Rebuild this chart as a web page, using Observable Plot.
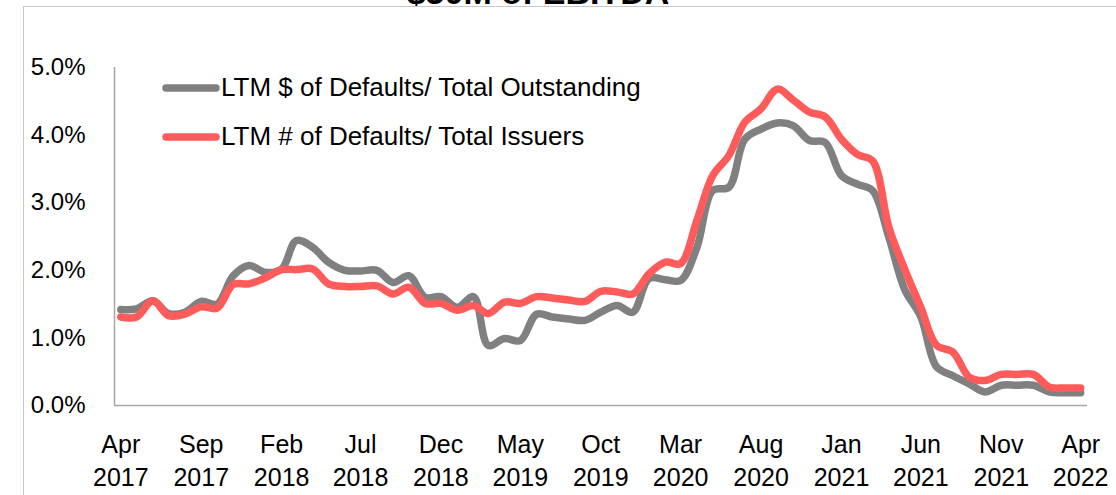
<!DOCTYPE html>
<html>
<head>
<meta charset="utf-8">
<script src="https://cdn.jsdelivr.net/npm/d3@7"></script>
<script src="https://cdn.jsdelivr.net/npm/@observablehq/plot@0.6"></script>
<style>
  html, body { margin: 0; padding: 0; background: #fff; }
  #wrap { position: relative; width: 1116px; height: 495px; overflow: hidden; font-family: "Liberation Sans", Arial, sans-serif; }
  #border { position: absolute; left: 23px; top: 6px; right: -5px; bottom: -5px; border-left: 1.5px solid #c8c8c8; border-top: 1.5px solid #c8c8c8; pointer-events: none; }
  #title { position: absolute; left: 0; width: 1076px; text-align: center; top: -25px; font-weight: bold; font-size: 34px; line-height: 34px; color: #000; }
  #legend { position: absolute; left: 160px; top: 63px; font-size: 26px; color: #000; }
  .li { display: flex; align-items: center; height: 49px; }
  .li svg { margin-right: -1px; }
  #chart { position: absolute; left: 0; top: 0; }
</style>
</head>
<body>
<div id="wrap">
  <div id="chart"></div>
  <div id="title">$50M of EBITDA</div>
  <div id="border"></div>
  <div id="legend"></div>
</div>
<script>
// Monthly observations, Apr 2017 .. Apr 2022
const startMonth = new Date(Date.UTC(2017, 3, 1));
const endMonth = new Date(Date.UTC(2022, 3, 1));
const months = d3.utcMonth.range(startMonth, d3.utcMonth.offset(endMonth, 1));

const seriesNames = ["LTM $ of Defaults/ Total Outstanding", "LTM # of Defaults/ Total Issuers"];
const seriesColors = ["#808080", "#ff5b5b"];

// LTM $ of Defaults / Total Outstanding (%)
const dollarPct = [
  1.42, 1.43, 1.55, 1.36, 1.38, 1.54, 1.50, 1.92, 2.07, 1.97,
  2.02, 2.44, 2.34, 2.12, 2.00, 1.99, 2.00, 1.82, 1.92, 1.60,
  1.61, 1.45, 1.61, 0.89, 0.99, 0.96, 1.35, 1.31, 1.28, 1.26,
  1.38, 1.48, 1.38, 1.88, 1.86, 1.85, 2.34, 3.18, 3.23, 3.94,
  4.09, 4.18, 4.14, 3.92, 3.89, 3.40, 3.27, 3.18, 2.49, 1.72,
  1.31, 0.57, 0.44, 0.32, 0.20, 0.30, 0.30, 0.30, 0.20, 0.19,
  0.19
];
// LTM # of Defaults / Total Issuers (%)
const countPct = [
  1.31, 1.31, 1.55, 1.33, 1.35, 1.46, 1.44, 1.79, 1.80, 1.89,
  2.01, 2.01, 2.02, 1.80, 1.76, 1.76, 1.77, 1.65, 1.75, 1.51,
  1.51, 1.41, 1.48, 1.36, 1.53, 1.51, 1.61, 1.59, 1.56, 1.54,
  1.69, 1.68, 1.65, 1.95, 2.12, 2.10, 2.74, 3.40, 3.70, 4.19,
  4.39, 4.68, 4.52, 4.34, 4.27, 3.94, 3.71, 3.62, 2.64, 2.02,
  1.45, 0.89, 0.79, 0.42, 0.37, 0.46, 0.46, 0.46, 0.27, 0.26,
  0.26
];

// Tick labels
const tickMonths = ["Apr 2017","Sep 2017","Feb 2018","Jul 2018","Dec 2018","May 2019","Oct 2019","Mar 2020","Aug 2020","Jan 2021","Jun 2021","Nov 2021","Apr 2022"];
const yTicks = [0, 1, 2, 3, 4, 5];

const parseTick = d3.utcParse("%b %Y");
const tickDates = tickMonths.map(parseTick);

const rows = [];
months.forEach((m, i) => {
  rows.push({date: m, value: dollarPct[i], series: seriesNames[0]});
});
months.forEach((m, i) => {
  rows.push({date: m, value: countPct[i], series: seriesNames[1]});
});

const xStart = d3.utcDay.offset(startMonth, -11.4);
const xEnd = d3.utcDay.offset(endMonth, 13.3);

const plot = Plot.plot({
  width: 1116,
  height: 495,
  marginLeft: 114,
  marginRight: 29,
  marginTop: 67,
  marginBottom: 90,
  style: {fontFamily: "'Liberation Sans', Arial, sans-serif", color: "#000", background: "transparent", overflow: "visible"},
  x: {type: "utc", domain: [xStart, xEnd]},
  y: {domain: [0, 5]},
  color: {domain: seriesNames, range: seriesColors},
  marks: [
    Plot.axisY({ticks: yTicks, tickSize: 0, tickPadding: 29, fontSize: 24, tickFormat: d => d.toFixed(1) + "%", label: null}),
    Plot.axisX({ticks: tickDates, tickSize: 0, tickPadding: 24, fontSize: 25, lineHeight: 1.32,
      tickFormat: d => d3.utcFormat("%b")(d) + "\n" + d3.utcFormat("%Y")(d), label: null}),
    Plot.ruleY([0], {stroke: "#a6a6a6", strokeWidth: 1.5}),
    Plot.ruleX([xStart], {y1: 0, y2: 5, stroke: "#a6a6a6", strokeWidth: 1.5}),
    Plot.line(rows, {x: "date", y: "value", z: "series", stroke: "series", strokeWidth: 7.5,
      curve: "catmull-rom", strokeLinecap: "round", strokeLinejoin: "round"})
  ]
});
document.getElementById("chart").appendChild(plot);

// Legend
const legend = document.getElementById("legend");
seriesNames.forEach((name, i) => {
  const row = document.createElement("div");
  row.className = "li";
  row.innerHTML = `<svg width="62" height="12"><line x1="6" y1="6" x2="56" y2="6" stroke="${seriesColors[i]}" stroke-width="7.5" stroke-linecap="round"/></svg><span>${name}</span>`;
  legend.appendChild(row);
});
</script>
</body>
</html>
